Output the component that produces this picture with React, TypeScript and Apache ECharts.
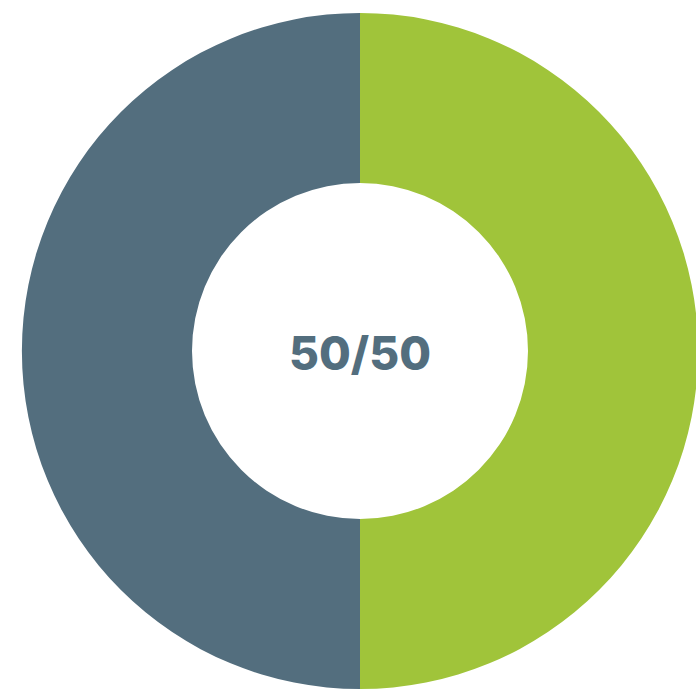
import React, { useEffect, useRef } from "react";
import * as echarts from "echarts";

const categories = ["A", "B"];
const values = [50, 50];
const colors = ["#a0c43a", "#536e7e"];
const centerLabel = "50/50";

export default function App() {
  const ref = useRef<HTMLDivElement>(null);
  useEffect(() => {
    if (!ref.current) return;
    const chart = echarts.init(ref.current, null, { renderer: "svg" });
    chart.setOption({
      animation: false,
      backgroundColor: "#ffffff",
      graphic: [
        {
          type: "text",
          x: 360,
          y: 353,
          style: {
            text: centerLabel,
            fill: "#536e7e",
            font: "800 46px Inter, sans-serif",
            align: "center",
            verticalAlign: "middle",
          },
        },
      ],
      series: [
        {
          type: "pie",
          center: [360, 351],
          radius: [168, 338],
          startAngle: 90,
          clockwise: true,
          label: { show: false },
          labelLine: { show: false },
          silent: true,
          itemStyle: { borderWidth: 0 },
          data: categories.map((c, i) => ({
            name: c,
            value: values[i],
            itemStyle: { color: colors[i] },
          })),
        },
      ],
    });
    return () => chart.dispose();
  }, []);
  return (
    <div
      ref={ref}
      style={{ position: "fixed", left: 0, top: 0, width: 696, height: 691 }}
    />
  );
}
